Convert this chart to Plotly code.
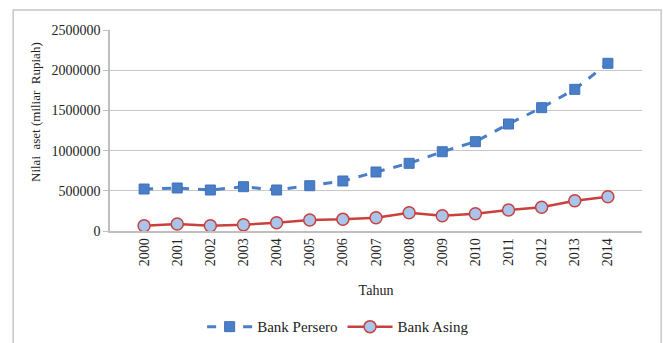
import plotly.graph_objects as go

years = [str(y) for y in range(2000, 2015)]
bank_persero = [522000, 535000, 510000, 551000, 510000, 563000, 622000, 734000,
                842000, 986000, 1111000, 1331000, 1534000, 1762000, 2086000]
bank_asing = [66000, 87000, 66000, 78000, 103000, 137000, 145000, 165000,
              228000, 190000, 215000, 261000, 295000, 377000, 427000]

font_family = "Liberation Serif, Times New Roman, serif"

fig = go.Figure()
fig.add_trace(go.Scatter(
    x=years, y=bank_persero, name="Bank Persero", mode="lines+markers",
    line=dict(color="#4A7EC7", width=3, dash="dash"),
    marker=dict(symbol="square", size=10, color="#4A7EC7",
                line=dict(color="#3F72BC", width=1)),
))
fig.add_trace(go.Scatter(
    x=years, y=bank_asing, name="Bank Asing", mode="lines+markers",
    line=dict(color="#C9413E", width=2.5),
    marker=dict(symbol="circle", size=12, color="#A9C5EC",
                line=dict(color="#C9413E", width=1.5)),
))

fig.update_layout(
    width=663, height=343,
    margin=dict(l=110, r=21, t=30, b=112, autoexpand=False),
    paper_bgcolor="white", plot_bgcolor="white",
    font=dict(family=font_family, size=13, color="#222"),
    showlegend=True,
    legend=dict(orientation="h", xref="container", yref="container",
                x=0.51, xanchor="center", y=0.047, yanchor="middle",
                font=dict(family=font_family, size=15, color="#222"),
                itemwidth=45, traceorder="normal"),
    shapes=[dict(type="rect", xref="paper", yref="paper",
                 x0=-0.182, x1=1.036, y0=-0.62, y1=1.0995,
                 line=dict(color="#C8C8C8", width=1.5), layer="below")],
    annotations=[dict(text="Nilai  aset (miliar  Rupiah)", textangle=-90,
                      xref="paper", yref="paper",
                      x=(35 - 110) / 532, y=(231 - 112) / 201,
                      xanchor="center", yanchor="middle", showarrow=False,
                      font=dict(family=font_family, size=13, color="#222"))],
)
fig.update_xaxes(
    type="category", tickangle=-90, showgrid=False, automargin=False,
    showline=True, linecolor="#BFBFBF", linewidth=1.5,
    ticks="", tickfont=dict(family=font_family, size=14, color="#222"),
    title=dict(text="Tahun", font=dict(family=font_family, size=14, color="#222"), standoff=20),
)
fig.update_yaxes(
    range=[0, 2500000], dtick=500000, tickformat="d", automargin=False,
    showgrid=True, gridcolor="#C8C8C8", gridwidth=1,
    showline=True, linecolor="#BFBFBF", linewidth=1.5,
    ticks="outside", ticklen=5, tickcolor="#BFBFBF",
    tickfont=dict(family=font_family, size=14, color="#222"),
    zeroline=False,
)

fig.write_html("out.html")
